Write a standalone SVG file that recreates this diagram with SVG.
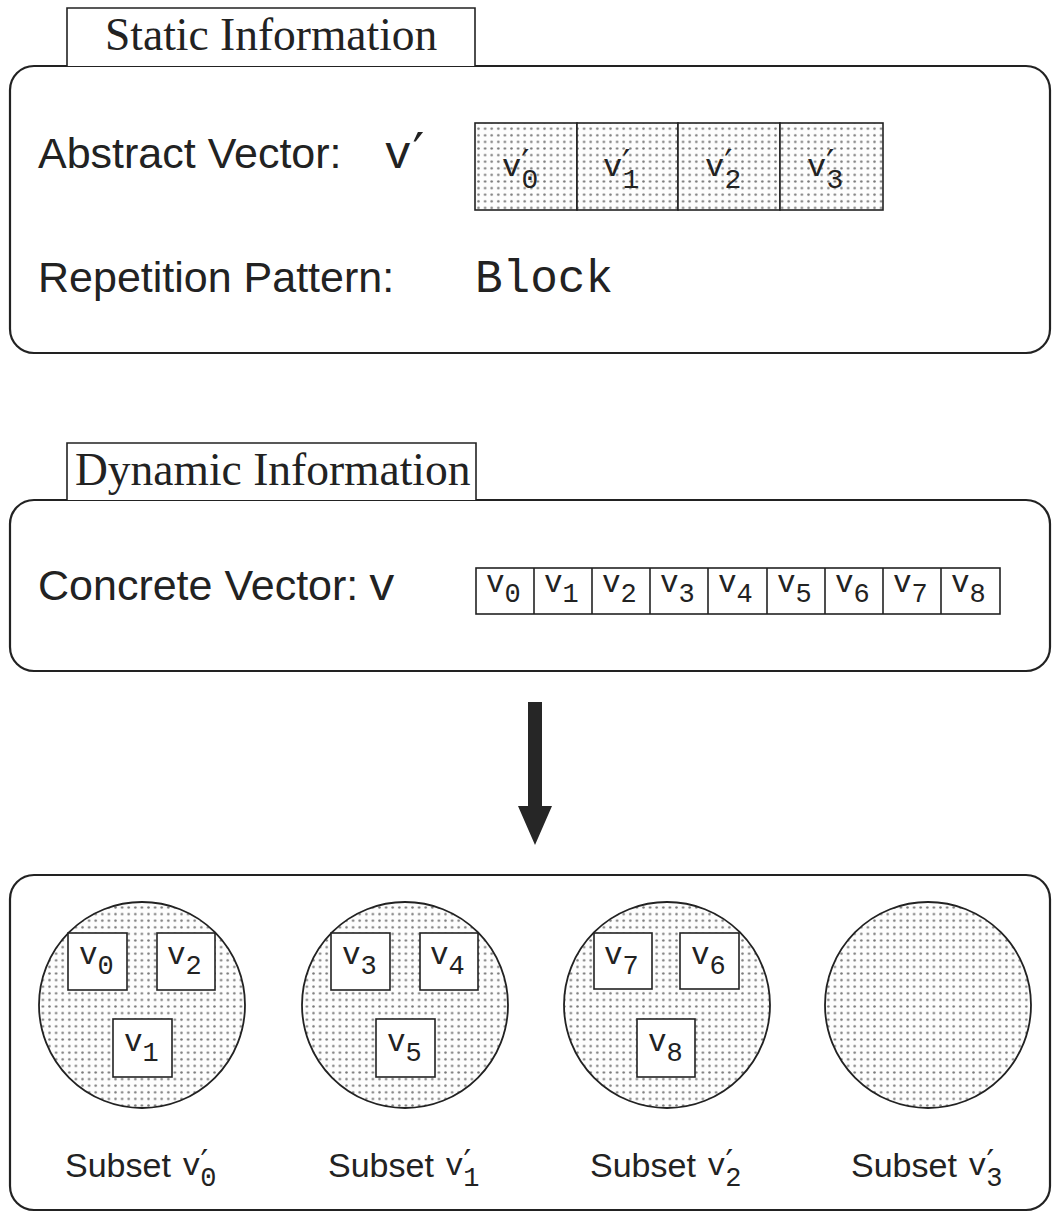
<svg xmlns="http://www.w3.org/2000/svg" width="1052" height="1220" viewBox="0 0 1052 1220">
  <defs>
    <!-- dot screen used for shaded cells and subset discs -->
    <pattern id="dots" patternUnits="userSpaceOnUse" width="6.6" height="6.6">
      <rect width="6.6" height="6.6" fill="#fdfdfd"/>
      <circle cx="3.3" cy="3.3" r="1.25" fill="#7a7a7a"/>
    </pattern>
    <style>
      .panel { fill: #fff; stroke: #222; stroke-width: 2.2; }
      .tab { fill: #fff; stroke: #222; stroke-width: 1.6; }
      .title { font-family: "Liberation Serif", "Times New Roman", serif; font-size: 45.5px; fill: #222; }
      .label { font-family: "Liberation Sans", Arial, sans-serif; font-size: 43px; fill: #222; }
      .sub-label { font-family: "Liberation Sans", Arial, sans-serif; font-size: 34px; fill: #222; }
      .mono { font-family: "Liberation Mono", "Courier New", monospace; fill: #222; }
      .prime { font-family: "DejaVu Sans", sans-serif; }
      .cell { fill: #fff; stroke: #222; stroke-width: 1.6; }
      .cell-shaded { fill: url(#dots); stroke: #222; stroke-width: 1.6; }
      .disc { fill: url(#dots); stroke: #222; stroke-width: 1.8; }
      .arrow { fill: #262626; }
    </style>
  </defs>

  <!-- Static information panel -->
  <g id="static-info">
    <rect class="panel" x="10" y="66" width="1040" height="287" rx="24"/>
    <path class="tab" d="M67,66 V8 H475 V66"/>
    <text class="title" x="105" y="50">Static Information</text>
    <text class="label" x="38" y="168">Abstract Vector:</text>
    <text class="mono" x="384" y="168" font-size="46">v<tspan class="prime" font-size="52" dx="1" dy="2">′</tspan></text>
    <text class="label" x="38" y="292">Repetition Pattern:</text>
    <text class="mono" x="475" y="292" font-size="46">Block</text>
  </g>

  <!-- Abstract vector v' : four shaded cells -->
  <g id="abstract-vector">
    <rect class="cell-shaded" x="475" y="123" width="102" height="87"/>
    <rect class="cell-shaded" x="577" y="123" width="101" height="87"/>
    <rect class="cell-shaded" x="678" y="123" width="102" height="87"/>
    <rect class="cell-shaded" x="780" y="123" width="103" height="87"/>
    <g class="mono" font-size="32">
      <text x="502" y="176">v<tspan class="prime" font-size="36" dy="-1">′</tspan><tspan font-size="28" dx="-8" dy="13">0</tspan></text>
      <text x="603" y="176">v<tspan class="prime" font-size="36" dy="-1">′</tspan><tspan font-size="28" dx="-8" dy="13">1</tspan></text>
      <text x="705" y="176">v<tspan class="prime" font-size="36" dy="-1">′</tspan><tspan font-size="28" dx="-8" dy="13">2</tspan></text>
      <text x="807" y="176">v<tspan class="prime" font-size="36" dy="-1">′</tspan><tspan font-size="28" dx="-8" dy="13">3</tspan></text>
    </g>
  </g>

  <!-- Dynamic information panel -->
  <g id="dynamic-info">
    <rect class="panel" x="10" y="500" width="1040" height="171" rx="24"/>
    <path class="tab" d="M67,500 V443 H476 V500"/>
    <text class="title" x="75" y="485">Dynamic Information</text>
    <text class="label" x="38" y="600">Concrete Vector:</text>
    <text class="mono" x="368" y="600" font-size="46">v</text>
  </g>

  <!-- Concrete vector v : nine cells -->
  <g id="concrete-vector">
    <rect class="cell" x="476" y="568" width="524" height="46"/>
    <g stroke="#222" stroke-width="1.6">
      <line x1="534" y1="568" x2="534" y2="614"/>
      <line x1="592" y1="568" x2="592" y2="614"/>
      <line x1="650" y1="568" x2="650" y2="614"/>
      <line x1="708" y1="568" x2="708" y2="614"/>
      <line x1="767" y1="568" x2="767" y2="614"/>
      <line x1="825" y1="568" x2="825" y2="614"/>
      <line x1="883" y1="568" x2="883" y2="614"/>
      <line x1="941" y1="568" x2="941" y2="614"/>
    </g>
    <g class="mono" font-size="31">
      <text x="486" y="592">v<tspan font-size="27" dy="10">0</tspan></text>
      <text x="544" y="592">v<tspan font-size="27" dy="10">1</tspan></text>
      <text x="602" y="592">v<tspan font-size="27" dy="10">2</tspan></text>
      <text x="660" y="592">v<tspan font-size="27" dy="10">3</tspan></text>
      <text x="718" y="592">v<tspan font-size="27" dy="10">4</tspan></text>
      <text x="777" y="592">v<tspan font-size="27" dy="10">5</tspan></text>
      <text x="835" y="592">v<tspan font-size="27" dy="10">6</tspan></text>
      <text x="893" y="592">v<tspan font-size="27" dy="10">7</tspan></text>
      <text x="951" y="592">v<tspan font-size="27" dy="10">8</tspan></text>
    </g>
  </g>

  <!-- Mapping arrow -->
  <g id="connectors">
    <path class="arrow" d="M528,702 H542 V806 H552 L535,845 L518,806 H528 Z"/>
  </g>

  <!-- Partitioned subsets -->
  <g id="subsets">
    <rect class="panel" x="10" y="875" width="1040" height="335" rx="24"/>
  </g>

  <g id="subset-0">
    <circle class="disc" cx="142" cy="1005" r="103"/>
    <rect class="cell" x="68" y="933" width="59" height="57"/>
    <rect class="cell" x="157" y="933" width="58" height="57"/>
    <rect class="cell" x="113" y="1019" width="59" height="58"/>
    <g class="mono" font-size="31">
      <text x="79" y="964">v<tspan font-size="27" dy="10">0</tspan></text>
      <text x="167" y="964">v<tspan font-size="27" dy="10">2</tspan></text>
      <text x="124" y="1051">v<tspan font-size="27" dy="10">1</tspan></text>
    </g>
    <text class="sub-label" x="65" y="1177">Subset</text>
    <text class="mono" x="182" y="1175" font-size="31">v<tspan class="prime" font-size="34" dy="-1">′</tspan><tspan font-size="27" dx="-8" dy="12">0</tspan></text>
  </g>

  <g id="subset-1">
    <circle class="disc" cx="405" cy="1005" r="103"/>
    <rect class="cell" x="331" y="933" width="59" height="57"/>
    <rect class="cell" x="420" y="933" width="58" height="57"/>
    <rect class="cell" x="376" y="1019" width="59" height="58"/>
    <g class="mono" font-size="31">
      <text x="342" y="964">v<tspan font-size="27" dy="10">3</tspan></text>
      <text x="430" y="964">v<tspan font-size="27" dy="10">4</tspan></text>
      <text x="387" y="1051">v<tspan font-size="27" dy="10">5</tspan></text>
    </g>
    <text class="sub-label" x="328" y="1177">Subset</text>
    <text class="mono" x="445" y="1175" font-size="31">v<tspan class="prime" font-size="34" dy="-1">′</tspan><tspan font-size="27" dx="-8" dy="12">1</tspan></text>
  </g>

  <g id="subset-2">
    <circle class="disc" cx="667" cy="1005" r="103"/>
    <rect class="cell" x="594" y="933" width="58" height="56"/>
    <rect class="cell" x="680" y="933" width="59" height="56"/>
    <rect class="cell" x="637" y="1019" width="58" height="58"/>
    <g class="mono" font-size="31">
      <text x="604" y="964">v<tspan font-size="27" dy="10">7</tspan></text>
      <text x="691" y="964">v<tspan font-size="27" dy="10">6</tspan></text>
      <text x="648" y="1051">v<tspan font-size="27" dy="10">8</tspan></text>
    </g>
    <text class="sub-label" x="590" y="1177">Subset</text>
    <text class="mono" x="707" y="1175" font-size="31">v<tspan class="prime" font-size="34" dy="-1">′</tspan><tspan font-size="27" dx="-8" dy="12">2</tspan></text>
  </g>

  <g id="subset-3">
    <circle class="disc" cx="928" cy="1005" r="103"/>
    <text class="sub-label" x="851" y="1177">Subset</text>
    <text class="mono" x="968" y="1175" font-size="31">v<tspan class="prime" font-size="34" dy="-1">′</tspan><tspan font-size="27" dx="-8" dy="12">3</tspan></text>
  </g>
</svg>
